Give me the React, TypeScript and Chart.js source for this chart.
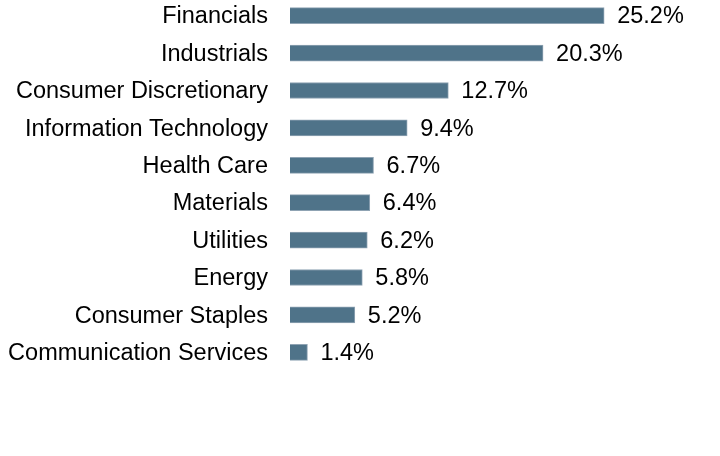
import React, { useEffect, useRef } from "react";
import { Chart, registerables } from "chart.js";

Chart.register(...registerables);

const categories = [
  "Financials",
  "Industrials",
  "Consumer Discretionary",
  "Information Technology",
  "Health Care",
  "Materials",
  "Utilities",
  "Energy",
  "Consumer Staples",
  "Communication Services",
];
const values = [25.2, 20.3, 12.7, 9.4, 6.7, 6.4, 6.2, 5.8, 5.2, 1.4];
const valueLabels = ["25.2%", "20.3%", "12.7%", "9.4%", "6.7%", "6.4%", "6.2%", "5.8%", "5.2%", "1.4%"];

const FONT = "Arial, 'Liberation Sans', sans-serif";
const FONT_SIZE = 23.5;

export default function App() {
  const ref = useRef<HTMLCanvasElement | null>(null);

  useEffect(() => {
    document.body.style.margin = "0";
    const canvas = ref.current;
    if (!canvas) return;

    const valueLabelPlugin = {
      id: "valueLabels",
      afterDatasetsDraw(chart: any) {
        const ctx = chart.ctx;
        const meta = chart.getDatasetMeta(0);
        ctx.save();
        ctx.font = `${FONT_SIZE}px ${FONT}`;
        ctx.fillStyle = "#000000";
        ctx.textAlign = "left";
        ctx.textBaseline = "middle";
        meta.data.forEach((bar: any, i: number) => {
          ctx.fillText(valueLabels[i], bar.x + 13, bar.y + 1.3);
        });
        ctx.restore();
      },
    };

    const chart = new Chart(canvas, {
      type: "bar",
      data: {
        labels: categories,
        datasets: [
          {
            data: values,
            backgroundColor: "#4f7389",
            borderColor: "#8fa3b3",
            borderWidth: 1,
            barThickness: 16,
          },
        ],
      },
      options: {
        indexAxis: "y",
        animation: false,
        responsive: false,
        maintainAspectRatio: false,
        layout: { padding: { top: 0, bottom: 85, left: 0, right: 56 } },
        plugins: {
          legend: { display: false },
          tooltip: { enabled: false },
        },
        scales: {
          x: {
            min: 0,
            max: 30,
            display: false,
            grid: { display: false },
          },
          y: {
            grid: { display: false, drawTicks: false },
            border: { display: false },
            ticks: {
              padding: 22,
              labelOffset: 1.3,
              color: "#000000",
              font: { size: FONT_SIZE, family: FONT },
              autoSkip: false,
            },
            afterFit(scale: any) {
              scale.width = 290;
              scale.paddingTop = 0;
              scale.paddingBottom = 0;
            },
          },
        },
      },
      plugins: [valueLabelPlugin],
    });

    return () => chart.destroy();
  }, []);

  return (
    <div style={{ position: "relative", width: 720, height: 456, overflow: "hidden" }}>
      <canvas
        ref={ref}
        width={720}
        height={459}
        style={{ position: "absolute", left: 0, top: -3, width: 720, height: 459 }}
      />
    </div>
  );
}
